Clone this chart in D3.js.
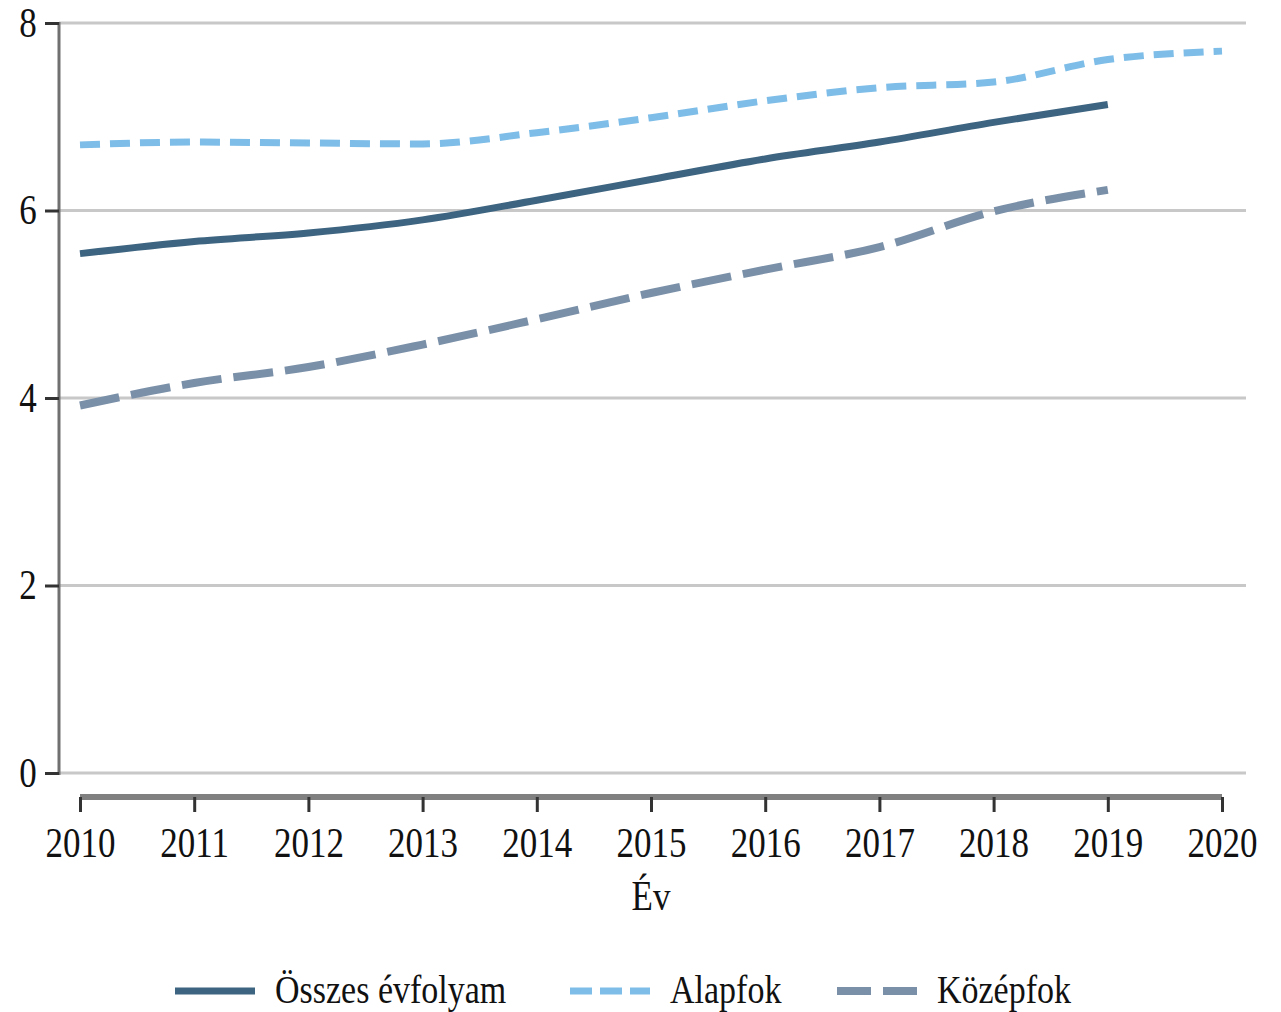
<!DOCTYPE html>
<html lang="hu">
<head>
  <meta charset="UTF-8">
  <title>Chart</title>
  <style>
    *{ margin:0; padding:0; }
    body{ background:#fff; }
    text{ font-family:"Liberation Serif","Times New Roman",serif; fill:#111; }
  </style>
  <script src="https://cdn.jsdelivr.net/npm/d3@7"></script>
</head>
<body>
  <svg id="mainsvg" style="display:block"></svg>
  <script>
    const years = [2010, 2011, 2012, 2013, 2014, 2015, 2016, 2017, 2018, 2019, 2020]
    const osszes = [5.54, 5.67, 5.76, 5.90, 6.11, 6.33, 6.55, 6.73, 6.94, 7.13]
    const alapfok = [6.70, 6.73, 6.72, 6.71, 6.83, 6.99, 7.17, 7.31, 7.37, 7.61, 7.70]
    const kozepfok = [3.92, 4.16, 4.33, 4.57, 4.84, 5.12, 5.37, 5.61, 5.99, 6.22]
    const yTicks = [0, 2, 4, 6, 8]
    const seriesNames = ['Összes évfolyam', 'Alapfok', 'Középfok']

    const width = 1281, height = 1012
    const svg = d3.select('#mainsvg').attr('width', width).attr('height', height)

    const x = d3.scaleLinear().domain([2010, 2020]).range([80, 1222])
    const y = d3.scaleLinear().domain([0, 8]).range([773, 23])
    const stretch = 1.18 // letters look taller than wide in the original

    // gridlines
    svg.append('g').selectAll('line').data(yTicks).join('line')
      .attr('x1', 59).attr('x2', 1246)
      .attr('y1', d => y(d)).attr('y2', d => y(d))
      .attr('stroke', '#c8c8c8').attr('stroke-width', 3)

    // y axis
    const yAxis = svg.append('g')
      .attr('transform', 'translate(59,0)')
      .call(d3.axisLeft(y).tickValues(yTicks).tickSize(14).tickFormat(d3.format('d')))
    yAxis.select('.domain').attr('stroke', '#707070').attr('stroke-width', 3)
      .attr('d', `M0,${y(8) - 1}V${y(0) + 2}`)
    yAxis.selectAll('.tick line').attr('stroke', '#333').attr('stroke-width', 3)
    yAxis.selectAll('.tick text').remove()
    yAxis.selectAll('.tick').append('text')
      .attr('text-anchor', 'middle')
      .attr('font-size', 35)
      .attr('transform', `translate(-31,13) scale(1,${stretch})`)
      .text(d => d)

    // x axis
    const xAxis = svg.append('g')
      .attr('transform', 'translate(0,797)')
      .call(d3.axisBottom(x).tickValues(years).tickSize(15).tickFormat(d3.format('d')))
    xAxis.select('.domain').attr('stroke', '#808080').attr('stroke-width', 6)
      .attr('d', `M${x(2010)},0H${x(2020)}`)
    xAxis.selectAll('.tick line').attr('stroke', '#333').attr('stroke-width', 3)
    xAxis.selectAll('.tick text').remove()
    xAxis.selectAll('.tick').append('text')
      .attr('text-anchor', 'middle')
      .attr('font-size', 35)
      .attr('transform', `translate(0,60) scale(1,${stretch})`)
      .text(d => d)

    svg.append('text')
      .attr('text-anchor', 'middle')
      .attr('font-size', 35)
      .attr('transform', `translate(${x(2015)},910) scale(1,${stretch})`)
      .text('Év')

    const styles = [
      { color: '#3d6480', width: 7, dash: null },
      { color: '#7dbde8', width: 7, dash: '20 10' },
      { color: '#7a90a8', width: 8, dash: '40 12' }
    ]
    const seriesData = [osszes, alapfok, kozepfok]

    const line = d3.line()
      .x((d, i) => x(years[i]))
      .y(d => y(d))
      .curve(d3.curveMonotoneX)

    svg.append('g').selectAll('path').data(seriesData).join('path')
      .attr('fill', 'none')
      .attr('stroke', (d, i) => styles[i].color)
      .attr('stroke-width', (d, i) => styles[i].width)
      .attr('stroke-dasharray', (d, i) => styles[i].dash)
      .attr('d', line)

    // legend
    const legendX = [175, 570, 837]
    const lg = svg.append('g').selectAll('g').data(seriesNames).join('g')
      .attr('transform', (d, i) => `translate(${legendX[i]},991)`)
    lg.append('line')
      .attr('x1', 0).attr('x2', 80)
      .attr('stroke', (d, i) => styles[i].color)
      .attr('stroke-width', (d, i) => styles[i].width)
      .attr('stroke-dasharray', (d, i) => i === 1 ? '22 8' : (i === 2 ? '34 12' : null))
    lg.append('text')
      .attr('font-size', 34)
      .attr('transform', `translate(100,12) scale(1,${stretch})`)
      .text(d => d)
  </script>
</body>
</html>
